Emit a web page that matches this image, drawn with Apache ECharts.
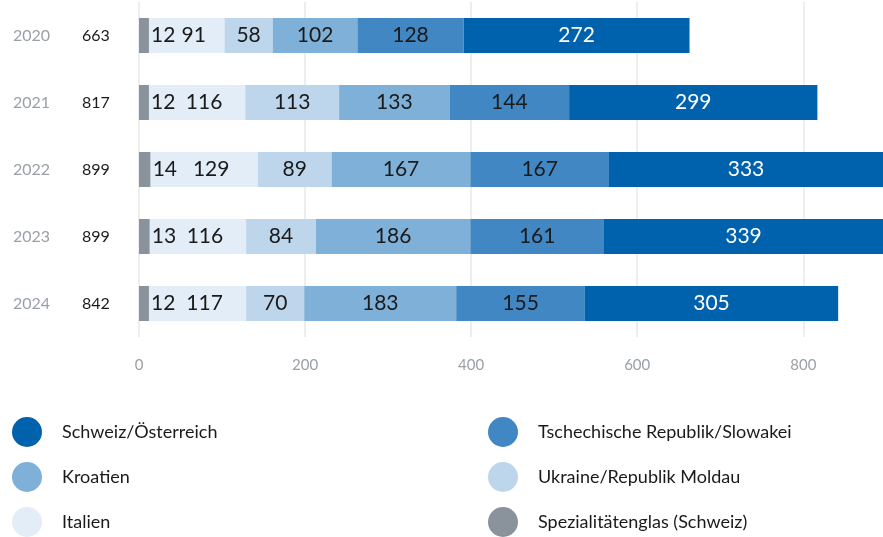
<!DOCTYPE html>
<html><head><meta charset="utf-8">
<script src="https://cdn.jsdelivr.net/npm/echarts@6/dist/echarts.min.js"></script>
<style>html,body{margin:0;padding:0;background:#fff}#c{width:883px;height:537px}</style>
</head><body><div id="c"></div>
<script>
const years = ['2020','2021','2022','2023','2024'];
const totals = [663, 817, 899, 899, 842];
const spezial = [12, 12, 14, 13, 12];
const italien = [91, 116, 129, 116, 117];
const ukraine = [58, 113, 89, 84, 70];
const kroatien = [102, 133, 167, 186, 183];
const tschechien = [128, 144, 167, 161, 155];
const schweiz = [272, 299, 333, 339, 305];
const xTicks = [0, 200, 400, 600, 800];

const FONT = 'Lato';
const names = {
  spezial: 'Spezialitätenglas (Schweiz)',
  italien: 'Italien',
  ukraine: 'Ukraine/Republik Moldau',
  kroatien: 'Kroatien',
  tschechien: 'Tschechische Republik/Slowakei',
  schweiz: 'Schweiz/Österreich'
};
const colors = {
  spezial: '#8a939b', italien: '#e3edf7', ukraine: '#bed6eb',
  kroatien: '#7eb0d8', tschechien: '#4087c4', schweiz: '#0061ac'
};
function mk(key, data, labelOpt) {
  return {
    name: names[key], type: 'bar', stack: 'a', data: data, barWidth: 35, z: 3,
    itemStyle: { color: colors[key] },
    label: Object.assign({ show: true, position: 'inside', fontFamily: FONT, fontSize: 21,
      color: key === 'schweiz' ? '#fff' : '#1a1a1a' }, labelOpt || {})
  };
}
const legendCommon = {
  orient: 'vertical', icon: 'circle', itemWidth: 30, itemHeight: 30, itemGap: 15,
  padding: 0, height: 120,
  textStyle: { fontFamily: FONT, fontSize: 18, color: '#1a1a1a', padding: [0, 0, 0, 15] }
};
const series = [
  mk('spezial', spezial, { position: 'right', distance: 2 }),
  mk('italien', italien, { offset: [7, 0] }),
  mk('ukraine', ukraine),
  mk('kroatien', kroatien),
  mk('tschechien', tschechien),
  mk('schweiz', schweiz)
];
series[0].markLine = {
  silent: true, symbol: ['none', 'none'], z: 1, animation: false,
  label: { show: false },
  lineStyle: { color: '#e8e8e8', width: 1.5, type: 'solid' },
  emphasis: { disabled: true },
  data: xTicks.map(v => ({ xAxis: v }))
};
const chart = echarts.init(document.getElementById('c'));
chart.setOption({
  animation: false,
  grid: { left: 139, right: 0, top: 2, bottom: 200 },
  xAxis: {
    type: 'value', min: 0, max: 896, interval: 200,
    axisLine: { show: false }, axisTick: { show: false },
    splitLine: { show: false },
    axisLabel: { margin: 21, color: '#9aa0a6', fontFamily: FONT, fontSize: 15, showMaxLabel: false,
      formatter: v => xTicks.includes(v) ? String(v) : '' }
  },
  yAxis: {
    type: 'category', data: years, inverse: true,
    axisLine: { show: false }, axisTick: { show: false },
    axisLabel: {
      align: 'left', margin: 126,
      formatter: (v, i) => '{y|' + v + '}{t|' + totals[i] + '}',
      rich: {
        y: { color: '#9aa0a6', fontFamily: FONT, fontSize: 16, width: 69 },
        t: { color: '#1a1a1a', fontFamily: FONT, fontSize: 16 }
      }
    }
  },
  legend: [
    Object.assign({ left: 12, top: 417, data: [names.schweiz, names.kroatien, names.italien] }, legendCommon),
    Object.assign({ left: 488, top: 417, data: [names.tschechien, names.ukraine, names.spezial] }, legendCommon)
  ],
  series: series
});
</script></body></html>
